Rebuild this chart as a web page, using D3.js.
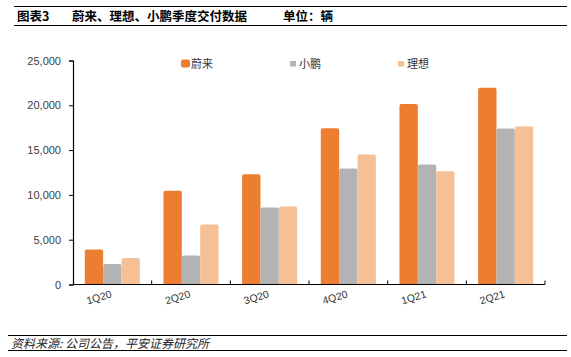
<!DOCTYPE html>
<html><head><meta charset="utf-8">
<script src="https://cdn.jsdelivr.net/npm/d3@7"></script>
<style>
html,body{margin:0;padding:0;background:#fff;}
svg{display:block;}
</style></head>
<body>
<svg id="c" width="571" height="357"></svg>
<script>
const categories = ["1Q20","2Q20","3Q20","4Q20","1Q21","2Q21"];
const seriesNames = ["蔚来","小鹏","理想"];
const nioValues = [3900, 10450, 12300, 17450, 20150, 21950];
const xpengValues = [2300, 3250, 8580, 12950, 13400, 17420];
const liValues = [2950, 6700, 8700, 14500, 12650, 17620];
const colors = ["#ED7D31", "#B3B3B3", "#F5C096"];
const yTicks = [0, 5000, 10000, 15000, 20000, 25000];
const titleLabel = "图表3";
const titleText = "蔚来、理想、小鹏季度交付数据";
const unitText = "单位：辆";
const sourceText = "资料来源: 公司公告，平安证券研究所";

const seriesValues = [nioValues, xpengValues, liValues];
const svg = d3.select("#c");
const cjk = "'Noto Sans CJK SC','Noto Sans',sans-serif";
const latin = "'Liberation Sans',Arial,sans-serif";

// header
svg.append("line").attr("x1",14).attr("x2",567).attr("y1",6.5).attr("y2",6.5).attr("stroke","#000").attr("stroke-width",1.2);
svg.append("line").attr("x1",14).attr("x2",567).attr("y1",25.5).attr("y2",25.5).attr("stroke","#000").attr("stroke-width",1.2);
svg.append("text").attr("x",17).attr("y",21).attr("font-family",cjk).attr("font-weight","bold").attr("font-size",12.5).attr("fill","#000").text(titleLabel);
svg.append("text").attr("x",72).attr("y",21).attr("font-family",cjk).attr("font-weight","bold").attr("font-size",12.5).attr("fill","#000").text(titleText);
svg.append("text").attr("x",283).attr("y",21).attr("font-family",cjk).attr("font-weight","bold").attr("font-size",12.5).attr("fill","#000").text(unitText);

// footer
svg.append("line").attr("x1",8).attr("x2",567).attr("y1",335.5).attr("y2",335.5).attr("stroke","#000").attr("stroke-width",1);
svg.append("line").attr("x1",8).attr("x2",567).attr("y1",350.5).attr("y2",350.5).attr("stroke","#000").attr("stroke-width",1);
svg.append("text").attr("x",11).attr("y",347.5).attr("font-family",cjk).attr("font-style","italic").attr("font-size",12).attr("fill","#222")
  .text(sourceText);

// scales
const x0 = d3.scaleBand().domain(categories).range([73, 545]).padding(0);
const x1 = d3.scaleBand().domain(seriesNames).range([x0.bandwidth()*0.15, x0.bandwidth()*0.85]).padding(0);
const y = d3.scaleLinear().domain([0, 25000]).range([284.5, 60.5]);

// bars
const groups = svg.append("g").selectAll("g").data(categories).join("g")
  .attr("transform", d => `translate(${x0(d)},0)`);
groups.selectAll("path").data((c, i) => seriesNames.map((s, j) => ({s, j, v: seriesValues[j][i]})))
  .join("path")
  .attr("fill", d => colors[d.j])
  .attr("d", d => {
    const bx = x1(d.s), bw = x1.bandwidth(), top = y(d.v), bot = y(0), r = 2;
    return `M${bx},${bot}V${top+r}Q${bx},${top} ${bx+r},${top}H${bx+bw-r}Q${bx+bw},${top} ${bx+bw},${top+r}V${bot}Z`;
  });

// y axis
const yAxis = svg.append("g").attr("transform","translate(73,0)")
  .call(d3.axisLeft(y).tickValues(yTicks).tickSize(4).tickFormat(d3.format(",")));
yAxis.select(".domain").attr("stroke","#000").attr("stroke-width",1.2);
yAxis.selectAll(".tick line").attr("stroke","#000");
yAxis.selectAll(".tick text").attr("x",-12).attr("font-family",latin).attr("font-size",11).attr("fill","#404040");

// x axis
const xAxisG = svg.append("g").attr("transform",`translate(0,${y(0)})`);
xAxisG.append("line").attr("x1",73).attr("x2",545).attr("y1",0).attr("y2",0).attr("stroke","#000").attr("stroke-width",1.2);
const bounds = categories.map(c => x0(c)).concat([x0(categories[categories.length-1]) + x0.bandwidth()]);
xAxisG.selectAll("line.tk").data(bounds.slice(1)).join("line").attr("class","tk")
  .attr("x1",d=>d).attr("x2",d=>d).attr("y1",-4).attr("y2",0).attr("stroke","#000");
xAxisG.selectAll("text.lbl").data(categories).join("text").attr("class","lbl")
  .attr("font-family",latin).attr("font-size",10.5).attr("fill","#333")
  .attr("text-anchor","end")
  .attr("transform", d => `translate(${x0(d)+x0.bandwidth()/2},${12.5}) rotate(-17)`)
  .text(d => d);

// legend
const legendX = [181, 290, 398];
const lg = svg.append("g");
seriesNames.forEach((s, j) => {
  if (j === 0) {
    lg.append("rect").attr("x",legendX[j]).attr("y",59.5).attr("width",9).attr("height",8).attr("rx",2).attr("fill",colors[j]);
  } else {
    lg.append("rect").attr("x",legendX[j]).attr("y",61).attr("width",6).attr("height",5.5).attr("fill",colors[j]);
  }
  lg.append("text").attr("x",legendX[j] + (j===0?10:9)).attr("y",67.5).attr("font-family",cjk).attr("font-size",11).attr("fill","#333").text(s);
});
</script>
</body></html>
